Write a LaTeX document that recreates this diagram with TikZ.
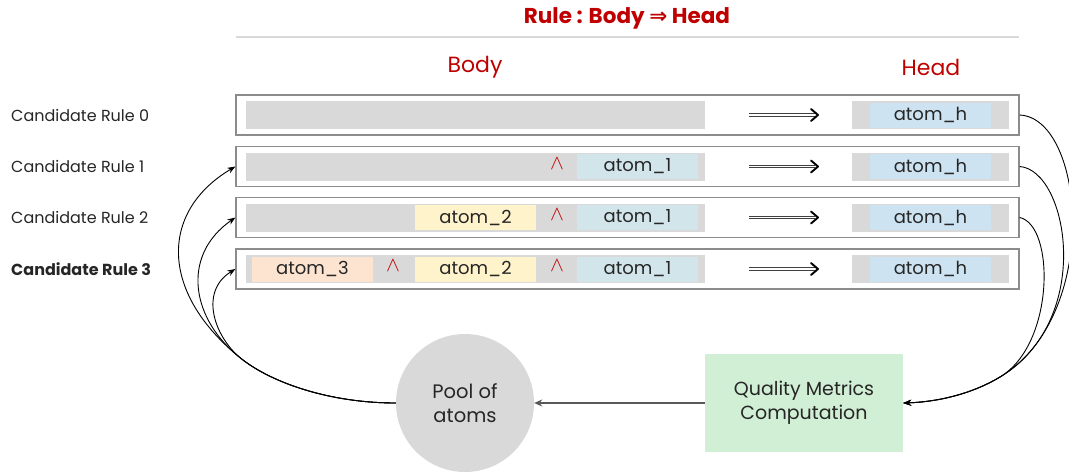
\documentclass[tikz,border=0pt]{standalone}
\usepackage{fontspec}
\setmainfont{Poppins}
\newfontfamily\symfont{DejaVu Sans}
\usetikzlibrary{arrows.meta}

\definecolor{ruleRed}{HTML}{C00000}
\definecolor{textDark}{HTML}{262626}
\definecolor{boxGray}{HTML}{8C8C8C}
\definecolor{barGray}{HTML}{D9D9D9}
\definecolor{ruleLine}{HTML}{D9D9D9}
\definecolor{atomOne}{HTML}{D2E5EA}
\definecolor{atomTwo}{HTML}{FFF3CC}
\definecolor{atomThree}{HTML}{FCE4D0}
\definecolor{atomHead}{HTML}{CDE3F2}
\definecolor{metricGreen}{HTML}{D0EFD4}
\definecolor{linkGray}{HTML}{595959}

\tikzset{
  rowbox/.style={draw=boxGray, line width=1.2pt, fill=white,
    minimum width=783pt, minimum height=40pt, inner sep=0pt},
  barpart/.style={fill=barGray, draw=none, minimum height=28pt, inner sep=0pt},
  atombox/.style={draw=none, minimum width=121pt, minimum height=25pt,
    inner sep=0pt, text=textDark, font=\fontsize{18}{20}\selectfont},
  andsym/.style={text=ruleRed, inner sep=0pt, font=\fontsize{22}{24}\selectfont},
  rowlabel/.style={anchor=west, inner sep=0pt, text=textDark,
    font=\fontsize{16}{18}\selectfont},
  sectlabel/.style={text=ruleRed, inner sep=0pt, font=\fontsize{22}{24}\selectfont},
  loopcurve/.style={draw=black, line width=0.9pt,
    -{Stealth[length=8pt,width=6pt]}},
  flowlink/.style={draw=linkGray, line width=1.4pt,
    -{Stealth[length=8pt,width=7pt]}},
}

\begin{document}
\begin{tikzpicture}[x=1pt,y=-1pt]
\useasboundingbox (0,0) rectangle (1069,472);

% heading
\node[text=ruleRed, inner sep=0pt, font=\bfseries\fontsize{21.5}{24}\selectfont]
  (title) at (627,18) {Rule : Body {\symfont\bfseries ⇒} Head};
\draw[ruleLine, line width=2.5pt] (236,37) -- (1019,37);
\node[sectlabel] (bodylab) at (475,67) {Body};
\node[sectlabel] (headlab) at (931,67) {Head};

% candidate rule rows: frame, body bar, implication arrow, head part
\foreach \i/\y in {0/115, 1/166.5, 2/217.5, 3/269} {
  \node[rowbox] (r\i) at (627.5,\y) {};
  \node[barpart, minimum width=459pt] (body\i) at (475.5,\y) {};
  \node[barpart, minimum width=157pt] (head\i) at (930.5,\y) {};
  \node[atombox, fill=atomHead] (ah\i) at (930.5,\y) {atom\_h};
  \draw[double=white, draw=black!75, double distance=1.8pt, line width=0.9pt]
    (749,\y) -- (815,\y);
  \draw[black, line width=1.9pt, line cap=round, line join=round]
    (811,\y-6) -- (818,\y) -- (811,\y+6);
}

\node[rowlabel] (lab0) at (11,115) {Candidate Rule 0};
\node[rowlabel] (lab1) at (11,166.5) {Candidate Rule 1};
\node[rowlabel] (lab2) at (11,217.5) {Candidate Rule 2};
\node[rowlabel, font=\bfseries\fontsize{16}{18}\selectfont] (lab3) at (11,269) {Candidate Rule 3};

% body atoms joined by conjunctions
\foreach \i/\y in {1/166.5, 2/217.5, 3/269} {
  \node[atombox, fill=atomOne] (a1r\i) at (637.5,\y) {atom\_1};
  \node[andsym] (and1r\i) at (557,\y-3) {$\wedge$};
}
\foreach \i/\y in {2/217.5, 3/269} {
  \node[atombox, fill=atomTwo] (a2r\i) at (475.5,\y) {atom\_2};
}
\node[atombox, fill=atomThree] (a3r3) at (312.5,269) {atom\_3};
\node[andsym] (and2r3) at (393,266) {$\wedge$};

% pool and metrics
\node[circle, fill=barGray, minimum size=138pt, inner sep=0pt, align=center,
  text=textDark, font=\fontsize{19.5}{24}\selectfont] (pool) at (465,403) {Pool of\\atoms};
\node[rectangle, fill=metricGreen, minimum width=198pt, minimum height=98pt,
  inner sep=0pt, align=center, text=textDark, font=\fontsize{19}{24}\selectfont]
  (qm) at (804,403) {Quality Metrics\\Computation};

\draw[flowlink] (qm.west) -- (pool.east);

% head rows feed the metrics, merging before the box
\coordinate (rmerge) at (1000,377);
\draw[loopcurve] (r0.east) .. controls (1085,118) and (1102,316) .. (rmerge)
  .. controls (970,395) and (935,402) .. (qm.east);
\draw[loopcurve] (r1.east) .. controls (1068,170) and (1095,320) .. (rmerge)
  .. controls (970,395) and (935,402) .. (qm.east);
\draw[loopcurve] (r2.east) .. controls (1055,225) and (1055,344) .. (rmerge)
  .. controls (970,395) and (935,402) .. (qm.east);

% new atoms from the pool extend the rule bodies
\coordinate (lmerge) at (243,360);
\draw[loopcurve] (pool.west) .. controls (330,403) and (273,383) .. (lmerge)
  .. controls (158,293) and (160,211) .. (r1.west);
\draw[loopcurve] (pool.west) .. controls (330,403) and (273,383) .. (lmerge)
  .. controls (191,321) and (180,256) .. (r2.west);
\draw[loopcurve] (pool.west) .. controls (330,403) and (273,383) .. (lmerge)
  .. controls (215,339) and (198,292) .. (r3.west);
\end{tikzpicture}
\end{document}
